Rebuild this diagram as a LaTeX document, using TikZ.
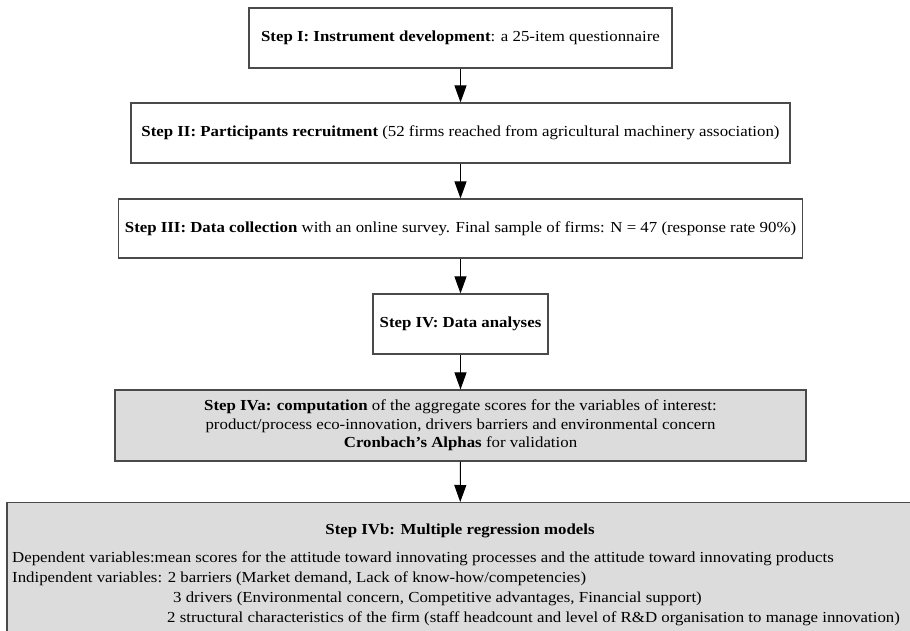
\documentclass[tikz,border=0pt]{standalone}
\usepackage{fontspec}
\setmainfont[FakeStretch=1.1]{Liberation Serif}
\usetikzlibrary{arrows.meta,positioning}
\definecolor{boxline}{HTML}{4A4A4A}
\definecolor{boxgray}{HTML}{DCDCDC}
\tikzset{
  stepbox/.style={draw=boxline,line width=1.1pt,fill=white,inner sep=0pt,align=center,font=\fontsize{15.3}{18.7}\selectfont},
  graybox/.style={stepbox,fill=boxgray},
  flow/.style={-{Triangle[width=12pt,length=17pt]},line width=0.9pt}
}
\begin{document}
\begin{tikzpicture}[x=1pt,y=1pt]
\useasboundingbox (0,0) rectangle (910,-631);
\node[stepbox,minimum width=423pt,minimum height=60pt] (s1) at (460.5,-38) {\textbf{Step I: Instrument development}: a 25-item questionnaire};
\node[stepbox,minimum width=659pt,minimum height=60pt] (s2) at (460.5,-133) {\textbf{Step II: Participants recruitment} (52 firms reached from agricultural machinery association)};
\node[stepbox,minimum width=684pt,minimum height=59pt] (s3) at (460.5,-228.5) {\textbf{Step III: Data collection} with an online survey. Final sample of firms: N = 47 (response rate 90\%)};
\node[stepbox,minimum width=175pt,minimum height=60pt] (s4) at (460.5,-324) {\textbf{Step IV: Data analyses}};
\node[graybox,minimum width=691pt,minimum height=71pt] (s5) at (460.5,-425.5) {\textbf{Step IVa: computation} of the aggregate scores for the variables of interest:\\product/process eco-innovation, drivers barriers and environmental concern\\\textbf{Cronbach's Alphas} for validation};
\node[graybox,minimum width=906pt,minimum height=150pt,anchor=north] (s6) at (460,-502) {};
\node[font=\fontsize{15.3}{18}\selectfont\bfseries] (s6t) at (460,-531) {Step IVb: Multiple regression models};
\node[font=\fontsize{15.3}{20}\selectfont,align=left,anchor=north west,inner sep=0pt] (s6b) at (12,-552) {Dependent variables:mean scores for the attitude toward innovating processes and the attitude toward innovating products\\Indipendent variables: 2 barriers (Market demand, Lack of know-how/competencies)\\\hspace*{161pt}3 drivers (Environmental concern, Competitive advantages, Financial support)\\\hspace*{155pt}2 structural characteristics of the firm (staff headcount and level of R\&D organisation to manage innovation)};
\draw[flow] (s1) -- (s2);
\draw[flow] (s2) -- (s3);
\draw[flow] (s3) -- (s4);
\draw[flow] (s4) -- (s5);
\draw[flow] (s5) -- (s6);
\end{tikzpicture}
\end{document}
